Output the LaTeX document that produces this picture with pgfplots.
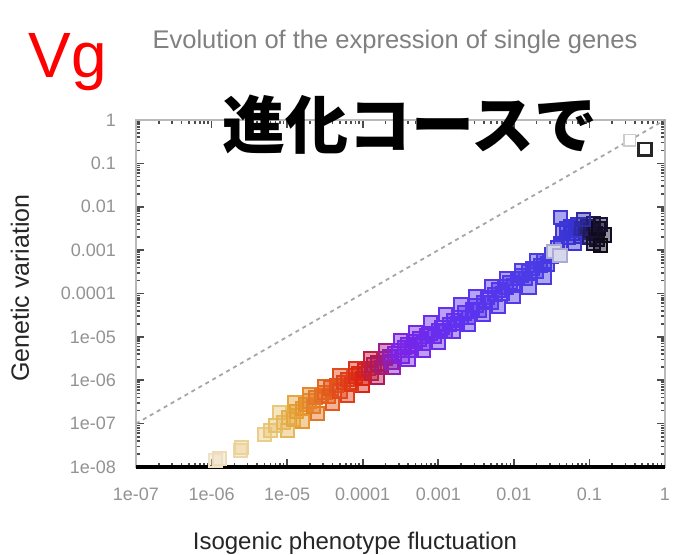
\documentclass[border=0pt]{standalone}
\usepackage{pgfplots}
\usepackage{pgfplotstable}
\pgfplotsset{compat=1.18}
\usepackage{fontspec}
\setmainfont{Liberation Sans}
\newfontfamily\jpfont{Noto Sans CJK JP}

% genetic vs. isogenic variance along the evolutionary course
% c = 0 at the start (black), c = 1 at the end (pale)
\pgfplotstableread{
x y c
1.122e-6 1.413e-8 1.00
1.259e-6 1.585e-8 0.99
2.399e-6 2.399e-8 0.98
2.512e-6 2.818e-8 0.97
5.012e-6 5.623e-8 0.96
6.026e-6 7.079e-8 0.95
7.079e-6 8.913e-8 0.94
8.913e-6 1.047e-7 0.93
1.047e-5 1.413e-7 0.92
1.202e-5 1.259e-7 0.91
1.318e-5 1.905e-7 0.90
1.585e-5 2.239e-7 0.89
1.778e-5 2.818e-7 0.88
1.995e-5 3.311e-7 0.87
2.239e-5 2.512e-7 0.86
2.399e-5 3.981e-7 0.85
2.818e-5 4.467e-7 0.84
3.162e-5 5.248e-7 0.83
3.548e-5 4.169e-7 0.82
3.802e-5 6.607e-7 0.81
4.467e-5 7.586e-7 0.80
5.012e-5 5.623e-7 0.79
5.623e-5 8.913e-7 0.78
6.310e-5 1.047e-6 0.77
7.079e-5 7.943e-7 0.76
7.943e-5 1.259e-6 0.75
8.913e-5 1.413e-6 0.74
1.000e-4 1.122e-6 0.73
1.047e-4 1.660e-6 0.72
1.202e-4 1.905e-6 0.71
1.318e-4 1.413e-6 0.70
1.413e-4 2.239e-6 0.69
1.585e-4 2.512e-6 0.68
1.778e-4 1.995e-6 0.67
1.995e-4 3.162e-6 0.66
2.239e-4 3.548e-6 0.65
2.399e-4 2.630e-6 0.64
2.630e-4 4.169e-6 0.63
3.020e-4 4.786e-6 0.62
3.311e-4 3.548e-6 0.61
3.548e-4 5.623e-6 0.60
3.981e-4 6.607e-6 0.59
4.467e-4 5.012e-6 0.58
5.012e-4 7.943e-6 0.57
5.623e-4 8.913e-6 0.56
6.310e-4 7.079e-6 0.55
7.079e-4 1.047e-5 0.54
7.943e-4 1.202e-5 0.53
8.913e-4 1.000e-5 0.52
1.000e-3 1.413e-5 0.51
1.122e-3 1.660e-5 0.50
1.259e-3 1.318e-5 0.49
1.413e-3 1.905e-5 0.48
1.585e-3 2.399e-5 0.47
1.778e-3 1.995e-5 0.46
1.995e-3 2.818e-5 0.45
2.239e-3 3.548e-5 0.44
2.512e-3 2.818e-5 0.43
2.818e-3 4.169e-5 0.42
3.162e-3 5.248e-5 0.41
3.548e-3 4.169e-5 0.40
3.981e-3 6.310e-5 0.39
4.467e-3 7.943e-5 0.38
5.012e-3 6.310e-5 0.37
5.623e-3 9.550e-5 0.36
6.310e-3 1.202e-4 0.35
7.079e-3 1.000e-4 0.34
7.943e-3 1.413e-4 0.33
8.913e-3 1.778e-4 0.32
1.000e-2 1.514e-4 0.31
1.122e-2 2.239e-4 0.30
1.259e-2 2.630e-4 0.29
1.413e-2 2.239e-4 0.28
1.585e-2 3.162e-4 0.27
1.778e-2 3.802e-4 0.26
1.995e-2 3.311e-4 0.25
2.239e-2 4.467e-4 0.24
2.512e-2 5.623e-4 0.23
2.818e-2 4.786e-4 0.22
3.162e-2 7.079e-4 0.21
3.548e-2 8.913e-4 0.20
3.802e-2 1.122e-3 0.19
4.169e-2 1.413e-3 0.18
4.467e-2 2.512e-3 0.16
5.012e-2 3.162e-3 0.15
5.248e-2 1.995e-3 0.14
5.623e-2 3.548e-3 0.13
6.026e-2 2.399e-3 0.12
6.607e-2 2.818e-3 0.11
7.079e-2 3.981e-3 0.10
7.586e-2 2.089e-3 0.09
7.943e-2 3.162e-3 0.08
8.913e-2 2.512e-3 0.07
9.550e-2 3.548e-3 0.06
1.000e-1 1.995e-3 0.05
1.047e-1 2.818e-3 0.04
1.122e-1 4.169e-3 0.03
1.202e-1 2.399e-3 0.02
1.259e-1 1.778e-3 0.01
1.318e-1 3.162e-3 0.00
}\evodata

% spread of the population on either side of the main course
\pgfplotstableread{
x y c
7.943e-6 1.778e-7 0.95
1.000e-5 7.079e-8 0.93
1.259e-5 3.020e-7 0.91
1.585e-5 1.148e-7 0.89
1.995e-5 4.571e-7 0.87
2.512e-5 1.698e-7 0.85
3.162e-5 7.244e-7 0.83
3.981e-5 2.951e-7 0.81
5.012e-5 1.259e-6 0.79
6.310e-5 4.365e-7 0.77
7.943e-5 1.905e-6 0.75
1.000e-4 7.586e-7 0.73
1.259e-4 3.236e-6 0.70
1.585e-4 1.148e-6 0.68
1.995e-4 4.898e-6 0.66
2.512e-4 1.950e-6 0.64
3.162e-4 8.318e-6 0.62
3.981e-4 2.951e-6 0.59
5.012e-4 1.259e-5 0.57
6.310e-4 5.012e-6 0.55
7.943e-4 2.188e-5 0.53
1.000e-3 7.586e-6 0.51
1.259e-3 3.236e-5 0.49
1.585e-3 1.318e-5 0.47
1.995e-3 5.623e-5 0.45
2.512e-3 1.950e-5 0.43
3.162e-3 8.318e-5 0.41
3.981e-3 3.388e-5 0.39
5.012e-3 1.445e-4 0.37
6.310e-3 5.012e-5 0.35
7.943e-3 2.188e-4 0.33
1.000e-2 8.710e-5 0.31
1.259e-2 3.467e-4 0.29
1.585e-2 1.413e-4 0.27
1.995e-2 5.623e-4 0.25
2.512e-2 2.399e-4 0.23
3.162e-2 7.943e-4 0.21
}\spreaddata

% early generations: blue and black clusters
\pgfplotstableread{
x y c
4.169e-2 5.623e-3 0.16
6.310e-2 1.413e-3 0.12
8.318e-2 5.012e-3 0.08
1.122e-1 1.413e-3 0.02
1.413e-1 3.981e-3 0.02
1.585e-1 2.239e-3 0.01
1.413e-1 1.259e-3 0.00
}\earlydata

\begin{document}
\begin{tikzpicture}
\useasboundingbox (-68pt,-43.5pt) rectangle (271.5pt,233.5pt);
\fill[white] (-68pt,-43.5pt) rectangle (271.5pt,233.5pt);
\begin{axis}[
  at={(0,0)}, anchor=south west,
  scale only axis, width=264.5pt, height=173.5pt,
  xmode=log, ymode=log,
  xmin=1e-7, xmax=1, ymin=1e-8, ymax=1,
  xtick={1e-7,1e-6,1e-5,1e-4,1e-3,1e-2,1e-1,1},
  xticklabels={1e-07,1e-06,1e-05,0.0001,0.001,0.01,0.1,1},
  ytick={1e-8,1e-7,1e-6,1e-5,1e-4,1e-3,1e-2,1e-1,1},
  yticklabels={1e-08,1e-07,1e-06,1e-05,0.0001,0.001,0.01,0.1,1},
  minor xtick={2e-7,3e-7,4e-7,5e-7,6e-7,7e-7,8e-7,9e-7,
    2e-6,3e-6,4e-6,5e-6,6e-6,7e-6,8e-6,9e-6,
    2e-5,3e-5,4e-5,5e-5,6e-5,7e-5,8e-5,9e-5,
    2e-4,3e-4,4e-4,5e-4,6e-4,7e-4,8e-4,9e-4,
    2e-3,3e-3,4e-3,5e-3,6e-3,7e-3,8e-3,9e-3,
    2e-2,3e-2,4e-2,5e-2,6e-2,7e-2,8e-2,9e-2,
    0.2,0.3,0.4,0.5,0.6,0.7,0.8,0.9},
  minor ytick={2e-8,3e-8,4e-8,5e-8,6e-8,7e-8,8e-8,9e-8,
    2e-7,3e-7,4e-7,5e-7,6e-7,7e-7,8e-7,9e-7,
    2e-6,3e-6,4e-6,5e-6,6e-6,7e-6,8e-6,9e-6,
    2e-5,3e-5,4e-5,5e-5,6e-5,7e-5,8e-5,9e-5,
    2e-4,3e-4,4e-4,5e-4,6e-4,7e-4,8e-4,9e-4,
    2e-3,3e-3,4e-3,5e-3,6e-3,7e-3,8e-3,9e-3,
    2e-2,3e-2,4e-2,5e-2,6e-2,7e-2,8e-2,9e-2,
    0.2,0.3,0.4,0.5,0.6,0.7,0.8,0.9},
  tick align=inside, major tick length=4pt, minor tick length=2pt,
  tick style={gray!60!black, line width=0.8pt},
  axis line style={gray!55, line width=0.8pt},
  every tick label/.append style={font=\fontsize{9}{10}\selectfont, text=gray!85},
  xticklabel shift=7pt, yticklabel shift=6.5pt,
  colormap={evo}{
    rgb255(0pt)=(15,10,20)
    rgb255(6pt)=(40,35,120)
    rgb255(10pt)=(55,50,210)
    rgb255(25pt)=(75,60,230)
    rgb255(45pt)=(95,50,240)
    rgb255(62pt)=(125,35,230)
    rgb255(68pt)=(175,25,90)
    rgb255(73pt)=(220,35,20)
    rgb255(82pt)=(228,95,30)
    rgb255(90pt)=(228,160,50)
    rgb255(95pt)=(232,200,120)
    rgb255(100pt)=(240,225,200)
  },
  point meta min=0, point meta max=1,
  clip=false,
  evo marks/.style={scatter, only marks, mark=square*, mark size=3.3pt,
    line width=1.0pt, scatter src=explicit,
    scatter/use mapped color={draw=mapped color, fill=mapped color, fill opacity=0.45}},
]
% neutral reference: genetic variance equals isogenic fluctuation
\addplot[gray!70, line width=0.9pt, dash pattern=on 2pt off 2pt] coordinates {(1e-7,1e-7) (1,1)};

\addplot[evo marks] table[x=x, y=y, meta=c] {\spreaddata};
\addplot[evo marks] table[x=x, y=y, meta=c] {\evodata};
\addplot[evo marks] table[x=x, y=y, meta=c] {\earlydata};

% pale squares linking the blue cluster to the main course
\addplot[only marks, mark=square*, mark size=3.3pt, line width=1.0pt,
  draw={rgb,255:red,170;green,170;blue,210}, fill={rgb,255:red,215;green,215;blue,235}]
  coordinates {(3.388e-2,9.120e-4) (4.074e-2,7.413e-4)};

% key sample
\addplot[only marks, mark=square*, mark size=2.8pt, line width=0.9pt, draw=gray!40, fill=white]
  coordinates {(0.343,0.345)};
\addplot[only marks, mark=square*, mark size=3.2pt, line width=1.4pt, draw=black!85, fill=white]
  coordinates {(0.54,0.21)};

\draw[black, line width=1.6pt] (rel axis cs:0,0) -- (rel axis cs:1,0);
\end{axis}

\node[text=gray!100, font=\fontsize{12.75}{14}\selectfont] at (129.5pt,212.5pt)
  {Evolution of the expression of single genes};
\node[text=red, font=\fontsize{32}{34}\selectfont] at (-34pt,202.5pt) {Vg};
\node[font=\jpfont\bfseries\fontsize{31.5}{33}\selectfont] at (137pt,171pt) {進化コースで};
\node[text=black!85, font=\fontsize{12}{14}\selectfont] at (109.5pt,-38pt)
  {Isogenic phenotype fluctuation};
\node[rotate=90, text=black!85, font=\fontsize{12.5}{14}\selectfont] at (-58pt,89.5pt)
  {Genetic variation};
\end{tikzpicture}
\end{document}
